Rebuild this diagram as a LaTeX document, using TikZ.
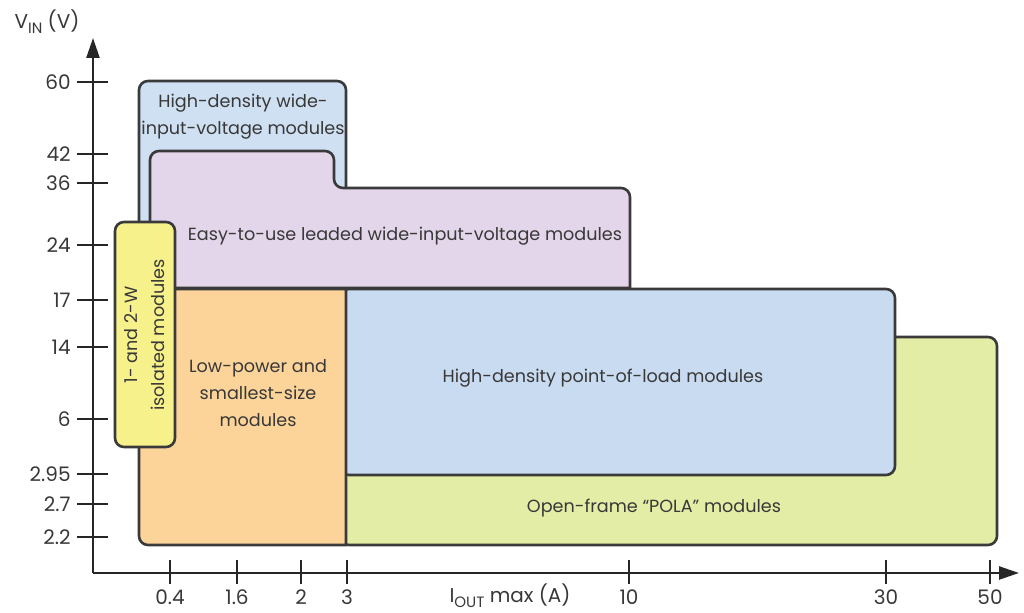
\documentclass[tikz,border=0pt]{standalone}
\usepackage{fontspec}
\setmainfont{Poppins}
\usetikzlibrary{arrows.meta}
\definecolor{bluetop}{HTML}{CFE0F2}
\definecolor{bluepol}{HTML}{C9DBF0}
\definecolor{purp}{HTML}{E3D5EA}
\definecolor{yell}{HTML}{F7F18C}
\definecolor{oran}{HTML}{FCD49A}
\definecolor{gree}{HTML}{E3EDA6}
\definecolor{edge}{HTML}{3A3A3A}
\definecolor{txt}{HTML}{383838}
\tikzset{
  region/.style={draw=edge, line width=1.3pt, rounded corners=4.5pt},
  lbl/.style={text=txt, font=\fontsize{8.8}{13.5}\selectfont, align=center, inner sep=0pt},
  ticklbl/.style={text=txt, font=\fontsize{10}{12}\selectfont, inner sep=0pt},
  axis/.style={draw=black!85, line width=1.2pt},
  tick/.style={draw=black!85, line width=1.2pt}
}
\begin{document}
\begin{tikzpicture}[x=0.5pt, y=-0.5pt]
\useasboundingbox (0,0) rectangle (1024,613);
% regions
\path[region, fill=bluetop] (139,320) -- (139,81) -- (346,81) -- (346,320);
\path[region, fill=purp] (150,288) [sharp corners] -- (150,288) [rounded corners=4.5pt] -- (150,151) -- (334,151) -- (334,188) -- (630,188) [sharp corners] -- (630,288) -- cycle;
\path[region, fill=gree] (340,337) rectangle (997,545);
\path[region, fill=bluepol] (340,289) rectangle (895,475);
\path[region, fill=oran] (139,289) [sharp corners] -- (346,289) -- (346,545) [rounded corners=4.5pt] -- (139,545) [sharp corners] -- cycle;
\path[region, fill=yell] (115,222) rectangle (175,447);
% axes
\coordinate (O) at (93,573);
\coordinate (Ytip) at (93,38);
\coordinate (Xtip) at (1019,573);
\draw[axis, -{Triangle[length=10pt,width=6.5pt]}] (O) -- (Ytip);
\draw[axis, -{Triangle[length=10pt,width=6.5pt]}] (O) -- (Xtip);
% y ticks
\foreach \v/\y in {60/82, 42/154, 36/183, 24/245, 17/300, 14/347, 6/419, 2.95/474, 2.7/504, 2.2/537}{
  \draw[tick] (77,\y) -- (108,\y);
  \node[ticklbl, anchor=east] (y\y) at (71,\y) {\v};
}
% x ticks
\foreach \v/\x in {0.4/170, 1.6/237, 2/301, 3/347, 10/629, 30/886, 50/990}{
  \draw[tick] (\x,560) -- (\x,584);
  \node[ticklbl, anchor=center] (x\x) at (\x,597) {\v};
}
\node[ticklbl, anchor=center] (xlab) at (510,596) {I\raisebox{-0.45ex}{\fontsize{7.5}{8}\selectfont OUT} max (A)};
\node[ticklbl, anchor=center] (ylab) at (47,22) {V\raisebox{-0.45ex}{\fontsize{7.5}{8}\selectfont IN} (V)};
% labels
\node[lbl] (hdw) at (243,117) {High-density wide-\\input-voltage modules};
\node[lbl] (easy) at (405,236) {Easy-to-use leaded wide-input-voltage modules};
\node[lbl, rotate=90] (iso) at (145,335) {1- and 2-W\\isolated modules};
\node[lbl] (low) at (258,393) {Low-power and\\smallest-size\\modules};
\node[lbl] (pol) at (603,378) {High-density point-of-load modules};
\node[lbl] (pola) at (654,508) {Open-frame “POLA” modules};
\end{tikzpicture}
\end{document}
